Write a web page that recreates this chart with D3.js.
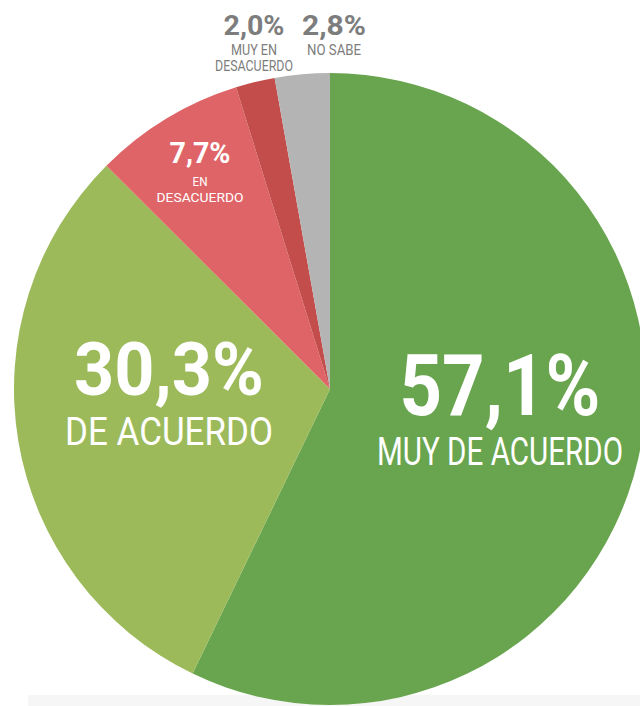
<!DOCTYPE html>
<html>
<head>
<meta charset="utf-8">
<script src="https://cdn.jsdelivr.net/npm/d3@7"></script>
<style>
  html, body { margin: 0; padding: 0; background: #ffffff; }
  svg { display: block; }
</style>
</head>
<body>
<svg id="chart" width="640" height="706"></svg>
<script>
// ---- data ----
const categories = ["MUY DE ACUERDO", "DE ACUERDO", "EN DESACUERDO", "MUY EN DESACUERDO", "NO SABE"];
const values = [57.1, 30.3, 7.7, 2.0, 2.8];
const valueLabels = ["57,1%", "30,3%", "7,7%", "2,0%", "2,8%"];
const categoryLines = [["MUY DE ACUERDO"], ["DE ACUERDO"], ["EN", "DESACUERDO"], ["MUY EN", "DESACUERDO"], ["NO SABE"]];

// ---- styles / layout ----
const colors = ["#68a54e", "#9cba5a", "#df6467", "#c24d4b", "#b4b4b4"];
const cx = 330, cy = 389, radius = 316;
// label layout: x centre, value baseline, value size, value width, line baselines, line size, line widths, colour
const labelLayout = [
  { x: 500, vy: 415, vs: 86, vw: 201, ly: [465], ls: 38, lw: [246], fill: "#ffffff" },
  { x: 169, vy: 395, vs: 75, vw: 190, ly: [445], ls: 38, lw: [208], fill: "#ffffff" },
  { x: 200, vy: 163, vs: 30, vw: 61, ly: [186, 202], ls: 13.5, lw: [15, 87], fill: "#ffffff" },
  { x: 254, vy: 35, vs: 27, vw: 61, ly: [55, 71], ls: 14, lw: [46, 78], fill: "#7d7d7d" },
  { x: 334, vy: 35, vs: 27, vw: 64, ly: [55], ls: 14, lw: [54], fill: "#7d7d7d" }
];

const svg = d3.select("#chart");

// faint band at bottom
svg.append("rect")
  .attr("x", 28).attr("y", 695).attr("width", 612).attr("height", 11)
  .attr("fill", "#f6f6f6");

const color = d3.scaleOrdinal().domain(categories).range(colors);

const pie = d3.pie().sort(null).value(d => d.value).startAngle(0).endAngle(2 * Math.PI);
const arc = d3.arc().innerRadius(0).outerRadius(radius);

const data = categories.map((c, i) => ({ category: c, value: values[i] }));

const g = svg.append("g").attr("transform", `translate(${cx},${cy})`);
g.selectAll("path")
  .data(pie(data))
  .join("path")
  .attr("d", arc)
  .attr("fill", d => color(d.data.category));

// labels
const labels = svg.append("g").attr("font-family", "Roboto, 'Liberation Sans', sans-serif");
categories.forEach((c, i) => {
  const L = labelLayout[i];
  labels.append("text")
    .attr("x", L.x).attr("y", L.vy)
    .attr("text-anchor", "middle")
    .attr("font-size", L.vs)
    .attr("font-weight", "bold")
    .attr("fill", L.fill)
    .attr("textLength", L.vw)
    .attr("lengthAdjust", "spacingAndGlyphs")
    .text(valueLabels[i]);
  categoryLines[i].forEach((line, j) => {
    labels.append("text")
      .attr("x", L.x).attr("y", L.ly[j])
      .attr("text-anchor", "middle")
      .attr("font-size", L.ls)
      .attr("fill", L.fill)
      .attr("textLength", L.lw[j])
      .attr("lengthAdjust", "spacingAndGlyphs")
      .text(line);
  });
});
</script>
</body>
</html>
